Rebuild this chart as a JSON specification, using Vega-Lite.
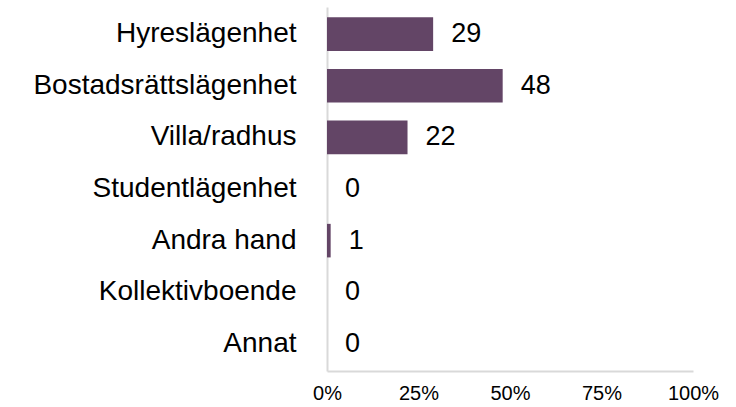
{
  "$schema": "https://vega.github.io/schema/vega-lite/v6.json",
  "width": 366,
  "height": 364,
  "autosize": "none",
  "padding": {"left": 327, "top": 7, "right": 43, "bottom": 36},
  "background": "white",
  "data": {"values": [
    {"category": "Hyreslägenhet", "pct": 29},
    {"category": "Bostadsrättslägenhet", "pct": 48},
    {"category": "Villa/radhus", "pct": 22},
    {"category": "Studentlägenhet", "pct": 0},
    {"category": "Andra hand", "pct": 1},
    {"category": "Kollektivboende", "pct": 0},
    {"category": "Annat", "pct": 0}
  ]},
  "config": {
    "view": {"stroke": null},
    "font": "Liberation Sans"
  },
  "encoding": {
    "y": {
      "field": "category", "type": "nominal", "sort": null,
      "scale": {"paddingInner": 0.35, "paddingOuter": 0.2},
      "axis": {"title": null, "ticks": false, "labelPadding": 31, "labelFontSize": 28, "labelColor": "#000000", "labelFont": "Liberation Sans", "domainColor": "#d9d9d9", "domainWidth": 2, "grid": false, "labelLimit": 400}
    },
    "x": {
      "field": "pct", "type": "quantitative",
      "scale": {"domain": [0, 100]},
      "axis": {"title": null, "values": [0, 25, 50, 75, 100], "labelExpr": "datum.value + '%'", "labelFlush": false, "ticks": false, "grid": false, "labelPadding": 12, "labelFontSize": 20, "labelColor": "#000000", "labelFont": "Liberation Sans", "domainColor": "#d9d9d9", "domainWidth": 2}
    }
  },
  "layer": [
    {"mark": {"type": "bar", "color": "#634566"}},
    {"mark": {"type": "text", "align": "left", "dx": 18, "fontSize": 27, "color": "#000000", "font": "Liberation Sans"},
     "encoding": {"text": {"field": "pct", "type": "quantitative"}}}
  ]
}
